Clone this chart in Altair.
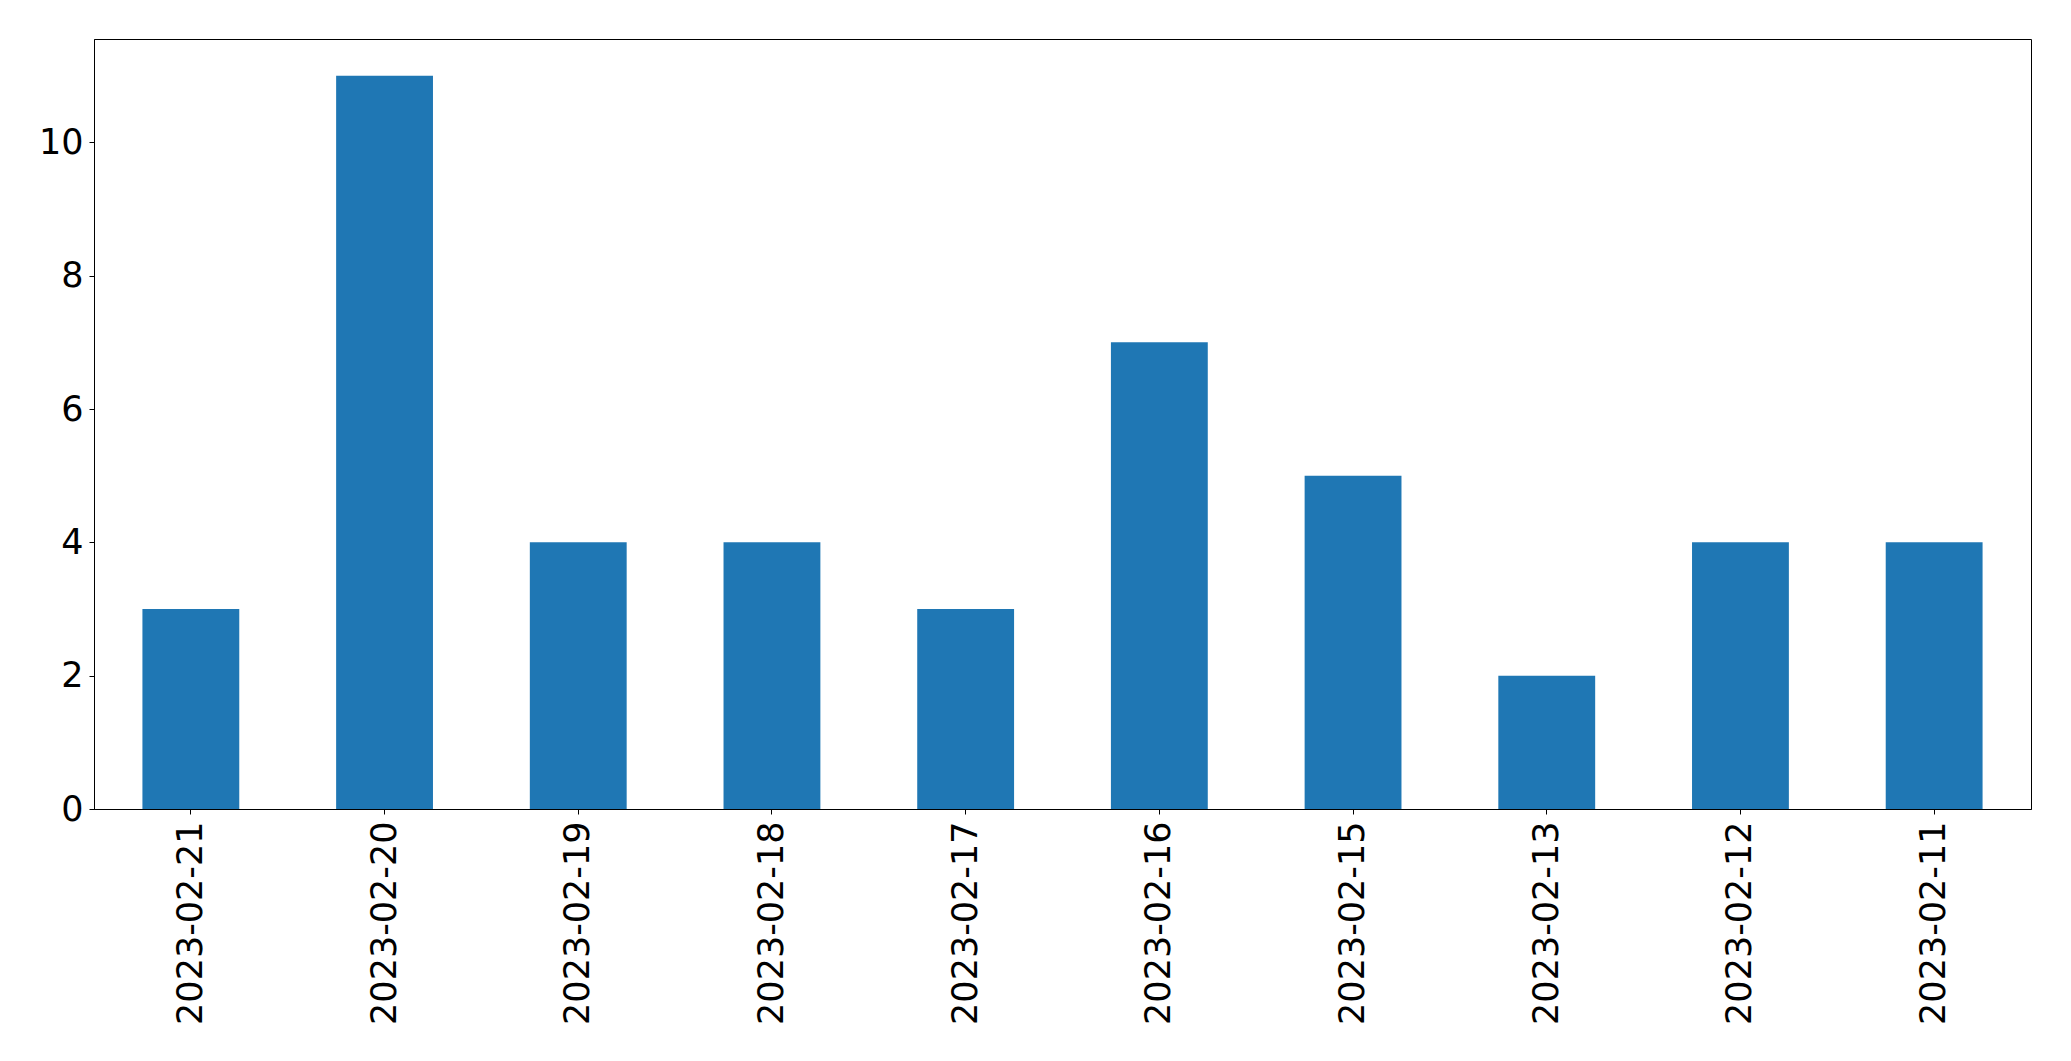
import altair as alt
import pandas as pd

dates = ["2023-02-21", "2023-02-20", "2023-02-19", "2023-02-18", "2023-02-17",
         "2023-02-16", "2023-02-15", "2023-02-13", "2023-02-12", "2023-02-11"]
counts = [3, 11, 4, 4, 3, 7, 5, 2, 4, 4]

df = pd.DataFrame({"date": dates, "count": counts})

chart = alt.Chart(df).mark_bar(color="#1f77b4").encode(
    x=alt.X("date:N", sort=None, title=None,
            scale=alt.Scale(paddingInner=0.5, paddingOuter=0.25),
            axis=alt.Axis(labelAngle=270, labelFont="DejaVu Sans", labelFontSize=35,
                          labelColor="black", tickColor="black", tickSize=5, tickWidth=1,
                          domainColor="black", domainWidth=1, labelPadding=7, grid=False,
                          labelLimit=0, labelOverlap=False, labelBound=False,
                          labelAlign="right", labelBaseline="middle")),
    y=alt.Y("count:Q", title=None,
            scale=alt.Scale(domain=[0, 11.55], nice=False, zero=True),
            axis=alt.Axis(values=[0, 2, 4, 6, 8, 10], labelFont="DejaVu Sans", labelFontSize=35,
                          labelColor="black", tickColor="black", tickSize=5, tickWidth=1,
                          domainColor="black", domainWidth=1, labelPadding=6, grid=False,
                          labelOverlap=False, labelBound=False)),
).properties(
    width=1937, height=770,
    autosize=alt.AutoSizeParams(type="none"),
    padding={"left": 86, "top": 31, "right": 20, "bottom": 235},
).configure_view(
    stroke="black", strokeWidth=1
)

chart.save("out.html", embed_options={"renderer": "svg", "actions": False})
